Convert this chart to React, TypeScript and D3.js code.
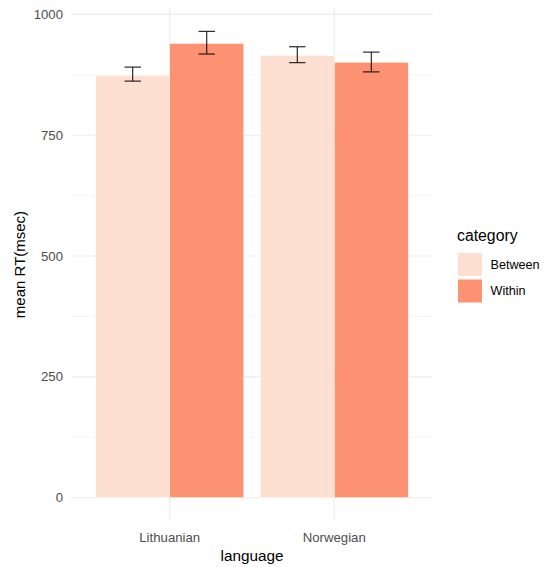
import React from "react";
import * as d3 from "d3";

const languages = ["Lithuanian", "Norwegian"];
const categories = ["Between", "Within"];
const meanRT = [
  [874, 940],
  [915, 901],
];
const lowerRT = [
  [862, 918],
  [900, 881],
];
const upperRT = [
  [891, 965],
  [933, 922],
];
const yTicks = [0, 250, 500, 750, 1000];
const yMinor = [125, 375, 625, 875];
const colors = ["#FEE0D2", "#FC9272"];

export default function App() {
  const W = 549;
  const H = 567;
  const left = 71;
  const right = 433;
  const top = 8;
  const bottom = 521;

  const yMax = d3.max(upperRT.flat())!;
  const pad = yMax * 0.05;
  const y = d3.scaleLinear().domain([-pad, yMax + pad]).range([bottom, top]);

  const xUnit = d3
    .scaleLinear()
    .domain([0.4, languages.length + 0.6])
    .range([left, right]);
  const barW = xUnit(0.45) - xUnit(0);
  const capW = xUnit(0.1) - xUnit(0);

  const font = "Liberation Sans, Arial, sans-serif";

  return (
    <svg
      width={W}
      height={H}
      style={{ position: "absolute", left: 0, top: 0, background: "#fff" }}
      fontFamily={font}
    >
      {yMinor.map((t) => (
        <line key={"mi" + t} x1={left} x2={right} y1={y(t)} y2={y(t)} stroke="#ebebeb" strokeWidth={0.55} />
      ))}
      {yTicks.map((t) => (
        <line key={"ma" + t} x1={left} x2={right} y1={y(t)} y2={y(t)} stroke="#ebebeb" strokeWidth={1.07} />
      ))}
      {languages.map((l, i) => (
        <line key={"v" + l} x1={xUnit(i + 1)} x2={xUnit(i + 1)} y1={top} y2={bottom} stroke="#ebebeb" strokeWidth={1.07} />
      ))}
      {languages.map((l, i) =>
        categories.map((c, j) => {
          const cx = xUnit(i + 1) + (j === 0 ? -barW / 2 : barW / 2);
          return (
            <rect
              key={l + c}
              x={cx - barW / 2}
              y={y(meanRT[i][j])}
              width={barW}
              height={y(0) - y(meanRT[i][j])}
              fill={colors[j]}
              stroke="#ffffff"
              strokeWidth={0.5}
            />
          );
        })
      )}
      {languages.map((l, i) =>
        categories.map((c, j) => {
          const cx = xUnit(i + 1) + (j === 0 ? -barW / 2 : barW / 2);
          return (
            <g key={"e" + l + c} stroke="#000" strokeWidth={1}>
              <line x1={cx} x2={cx} y1={y(lowerRT[i][j])} y2={y(upperRT[i][j])} />
              <line x1={cx - capW / 2} x2={cx + capW / 2} y1={y(lowerRT[i][j])} y2={y(lowerRT[i][j])} />
              <line x1={cx - capW / 2} x2={cx + capW / 2} y1={y(upperRT[i][j])} y2={y(upperRT[i][j])} />
            </g>
          );
        })
      )}
      {yTicks.map((t) => (
        <text key={"yt" + t} x={63} y={y(t)} dy="0.35em" textAnchor="end" fontSize={13.2} fill="#4d4d4d">
          {t}
        </text>
      ))}
      {languages.map((l, i) => (
        <text key={"xt" + l} x={xUnit(i + 1)} y={542} textAnchor="middle" fontSize={13.2} fill="#4d4d4d">
          {l}
        </text>
      ))}
      <text x={(left + right) / 2} y={561} textAnchor="middle" fontSize={15.3} fill="#000">
        language
      </text>
      <text
        transform={`translate(25,${(top + bottom) / 2}) rotate(-90)`}
        textAnchor="middle"
        fontSize={15}
        fill="#000"
      >
        mean RT(msec)
      </text>
      <text x={457} y={241} fontSize={15.8} fill="#000">
        category
      </text>
      {categories.map((c, j) => (
        <g key={"lg" + c}>
          <rect x={458} y={253 + j * 26.5} width={24} height={23} fill={colors[j]} />
          <text x={490.5} y={264.5 + j * 26.5} dy="0.35em" fontSize={12.6} fill="#000">
            {c}
          </text>
        </g>
      ))}
    </svg>
  );
}
